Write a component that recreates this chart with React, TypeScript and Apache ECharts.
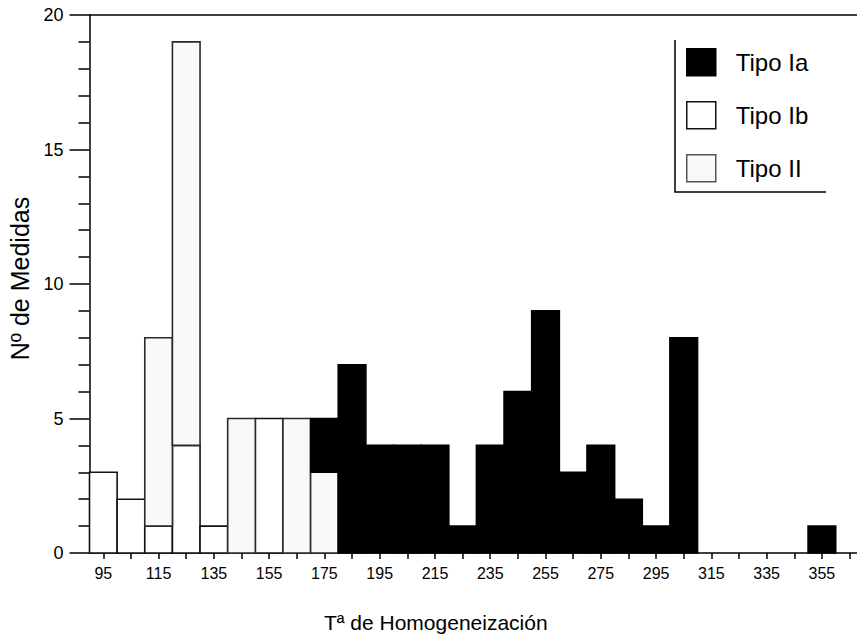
import React, { useEffect, useRef } from "react";
import * as echarts from "echarts";

const binCenters = [95, 105, 115, 125, 135, 145, 155, 165, 175, 185, 195, 205, 215, 225, 235, 245, 255, 265, 275, 285, 295, 305, 315, 325, 335, 345, 355];
const tipoIb = [3, 2, 1, 4, 1, 0, 5, 0, 0, 0, 0, 0, 0, 0, 0, 0, 0, 0, 0, 0, 0, 0, 0, 0, 0, 0, 0];
const tipoII = [0, 0, 7, 15, 0, 5, 0, 5, 3, 0, 0, 0, 0, 0, 0, 0, 0, 0, 0, 0, 0, 0, 0, 0, 0, 0, 0];
const tipoIa = [0, 0, 0, 0, 0, 0, 0, 0, 2, 7, 4, 4, 4, 1, 4, 6, 9, 3, 4, 2, 1, 8, 0, 0, 0, 0, 1];
const xTickValues = [95, 105, 115, 125, 135, 145, 155, 165, 175, 185, 195, 205, 215, 225, 235, 245, 255, 265, 275, 285, 295, 305, 315, 325, 335, 345, 355, 365];
const xLabelValues = [95, 115, 135, 155, 175, 195, 215, 235, 255, 275, 295, 315, 335, 355];
const BIN_WIDTH = 10;

const FONT = "'Liberation Sans', Arial, Helvetica, sans-serif";

const STYLES: Record<string, { fill: string; stroke: string }> = {
  "Tipo Ia": { fill: "#000000", stroke: "#000000" },
  "Tipo Ib": { fill: "#ffffff", stroke: "#111111" },
  "Tipo II": { fill: "#f9f9f9", stroke: "#2a2a2a" },
};

function buildStack(values: number[], below: number[][]) {
  return binCenters.map((c, i) => {
    let base = 0;
    for (const b of below) base += b[i];
    return [c, base, base + values[i]];
  });
}

function makeSeries(name: string, data: number[][]) {
  const st = STYLES[name];
  return {
    type: "custom",
    name,
    data,
    encode: { x: 0, y: [1, 2] },
    itemStyle: { color: st.fill, borderColor: st.stroke },
    renderItem: (params: any, api: any) => {
      const x = api.value(0);
      const lo = api.value(1);
      const hi = api.value(2);
      if (hi <= lo) return null;
      const p1 = api.coord([x - BIN_WIDTH / 2, hi]);
      const p2 = api.coord([x + BIN_WIDTH / 2, lo]);
      return {
        type: "rect",
        shape: { x: p1[0], y: p1[1], width: p2[0] - p1[0], height: p2[1] - p1[1] },
        style: { fill: st.fill, stroke: st.stroke, lineWidth: 1.6 },
      };
    },
  };
}

export default function App() {
  const ref = useRef<HTMLDivElement>(null);
  useEffect(() => {
    if (!ref.current) return;
    const chart = echarts.init(ref.current, null, { renderer: "svg" });
    const option: any = {
      animation: false,
      backgroundColor: "#ffffff",
      textStyle: { fontFamily: FONT, color: "#000" },
      grid: { left: 89.5, right: 0, top: 15, bottom: 88, containLabel: false, outerBoundsMode: "none" },
      legend: {
        orient: "vertical",
        left: 686,
        top: 48,
        padding: 0,
        itemWidth: 29,
        itemHeight: 27,
        itemGap: 24.5,
        icon: "rect",
        textStyle: { fontFamily: FONT, fontSize: 24, color: "#000", padding: [0, 0, 0, 15] },
        data: [
          { name: "Tipo Ia", itemStyle: { color: "#000", borderColor: "#000", borderWidth: 1.5 } },
          { name: "Tipo Ib", itemStyle: { color: "#fff", borderColor: "#111", borderWidth: 1.5 } },
          { name: "Tipo II", itemStyle: { color: "#f9f9f9", borderColor: "#555", borderWidth: 1.5 } },
        ],
      },
      xAxis: [
        {
          type: "value",
          min: 90,
          max: 367.7,
          position: "bottom",
          name: "Tª de Homogeneización",
          nameLocation: "middle",
          nameGap: 59,
          nameTextStyle: { fontFamily: FONT, fontSize: 21, color: "#000", padding: [0, 75, 0, 0] },
          axisLine: { show: true, lineStyle: { color: "#000", width: 1.5 } },
          axisTick: { show: true, customValues: xTickValues, length: 6, lineStyle: { color: "#000", width: 1.5 } },
          axisLabel: { show: true, customValues: xLabelValues, fontSize: 16, color: "#000", margin: 12, fontFamily: FONT },
          splitLine: { show: false },
        },
        {
          type: "value",
          min: 90,
          max: 367.7,
          position: "top",
          axisLine: { show: true, lineStyle: { color: "#000", width: 1.5 } },
          axisTick: { show: false },
          axisLabel: { show: false },
          splitLine: { show: false },
        },
      ],
      yAxis: {
        type: "value",
        min: 0,
        max: 20,
        interval: 5,
        name: "Nº de Medidas",
        nameLocation: "middle",
        nameGap: 54,
        nameRotate: 90,
        nameTextStyle: { fontFamily: FONT, fontSize: 25, color: "#000", padding: [0, 0, 0, 11] },
        axisLine: { show: true, lineStyle: { color: "#000", width: 1.5 } },
        axisTick: { show: true, length: 20, lineStyle: { color: "#000", width: 1.5 } },
        minorTick: { show: true, splitNumber: 5, length: 11, lineStyle: { color: "#000", width: 1.5 } },
        axisLabel: { fontSize: 18, color: "#000", margin: 26, fontFamily: FONT },
        splitLine: { show: false },
      },
      graphic: [
        {
          type: "polyline",
          shape: { points: [[675, 40], [675, 192], [826, 192]] },
          style: { stroke: "#000", lineWidth: 1.5, fill: "none" },
          z: 10,
        },
      ],
      series: [
        makeSeries("Tipo Ib", buildStack(tipoIb, [])),
        makeSeries("Tipo II", buildStack(tipoII, [tipoIb])),
        makeSeries("Tipo Ia", buildStack(tipoIa, [tipoIb, tipoII])),
      ],
    };
    chart.setOption(option);
    return () => chart.dispose();
  }, []);
  return (
    <div
      ref={ref}
      style={{ position: "fixed", left: 0, top: 0, width: 857, height: 641, background: "#fff" }}
    />
  );
}
